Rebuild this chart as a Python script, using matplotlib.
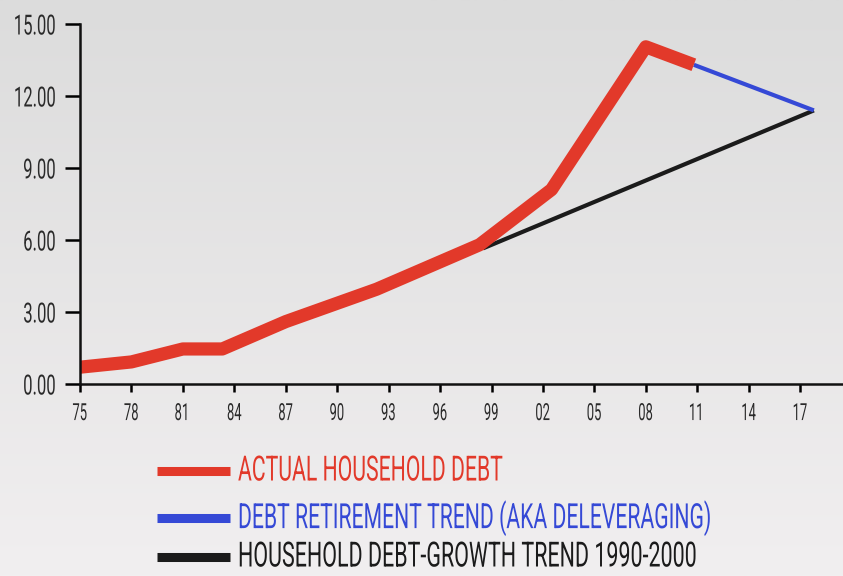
import numpy as np
import matplotlib
matplotlib.use("Agg")
import matplotlib.pyplot as plt
from matplotlib.lines import Line2D
from matplotlib import patheffects
from matplotlib.transforms import Affine2D, Bbox

plt.rcParams['font.family'] = ['Roboto', 'DejaVu Sans']

# household debt, trillions of dollars
debt_years = [1975, 1978, 1981, 1983.3, 1987, 1992.3, 1998.3, 2002.5, 2008, 2010.8]
debt_values = [0.70, 0.92, 1.46, 1.46, 2.60, 3.95, 5.80, 8.10, 14.05, 13.30]

# deleveraging trend after the peak
delev_years = [2010.8, 2017.8]
delev_values = [13.30, 11.40]

# straight-line growth trend fitted on the 1990s
trend_years = [1998.5, 2017.8]
trend_values = [5.65, 11.40]

xticks = list(range(1975, 2018, 3))
xticklabels = ["%02d" % (y % 100) for y in xticks]
yticks = [0, 3, 6, 9, 12, 15]

legend_labels = ["ACTUAL HOUSEHOLD DEBT",
                 "DEBT RETIREMENT TREND (AKA DELEVERAGING)",
                 "HOUSEHOLD DEBT-GROWTH TREND 1990-2000"]
colors = ["#e2392a", "#3549d6", "#1b1b1b"]


class Condense(patheffects.AbstractPathEffect):
    """Squeeze glyphs horizontally around the left, centre or right edge."""

    def __init__(self, sx, align="left"):
        super().__init__()
        self.sx = sx
        self.align = align

    def draw_path(self, renderer, gc, tpath, affine, rgbFace=None):
        verts = affine.transform(tpath.vertices)
        if len(verts) == 0:
            return
        x0, x1 = verts[:, 0].min(), verts[:, 0].max()
        ref = {"left": x0, "right": x1, "center": 0.5 * (x0 + x1)}[self.align]
        squeeze = Affine2D().translate(-ref, 0).scale(self.sx, 1).translate(ref, 0)
        renderer.draw_path(gc, tpath, affine + squeeze, rgbFace)


def squeeze_text(t, sx, align):
    # condensed look for a text, with its extent shrunk to match
    t.set_path_effects([Condense(sx, align)])
    orig = t.get_window_extent

    def extent(renderer=None, dpi=None):
        bb = orig(renderer, dpi)
        ref = {"left": bb.x0, "right": bb.x1, "center": 0.5 * (bb.x0 + bb.x1)}[align]
        return Bbox.from_extents(ref + (bb.x0 - ref) * sx, bb.y0,
                                 ref + (bb.x1 - ref) * sx, bb.y1)

    t.get_window_extent = extent


W, H = 843, 576
fig = plt.figure(figsize=(W / 100, H / 100), dpi=100)

# soft grey vertical gradient behind everything
bg = fig.add_axes([0, 0, 1, 1], zorder=-10)
grad = np.linspace(0, 1, 256)[:, None]
top = np.array([220, 220, 220]) / 255
bot = np.array([241, 239, 240]) / 255
img = top + (bot - top) * grad[..., None]
bg.imshow(img, aspect="auto", extent=[0, 1, 0, 1])
bg.axis("off")

ax = fig.add_axes([80 / W, (H - 384) / H, (W - 80) / W, 360 / H])
ax.patch.set_alpha(0)

ax.plot(trend_years, trend_values, color=colors[2], lw=3.0, solid_capstyle="butt", zorder=2)
ax.plot(delev_years, delev_values, color=colors[1], lw=3.0, solid_capstyle="butt", zorder=2)
ax.plot(debt_years, debt_values, color=colors[0], lw=9.5,
        solid_capstyle="butt", solid_joinstyle="round", zorder=3)

ax.set_xlim(1975, 2019.5)
ax.set_ylim(0, 15)
ax.set_xticks(xticks)
ax.set_xticklabels(xticklabels)
ax.set_yticks(yticks)
ax.set_yticklabels(["%.2f" % v for v in yticks])

for side in ["top", "right"]:
    ax.spines[side].set_visible(False)
for side in ["left", "bottom"]:
    ax.spines[side].set_linewidth(1.8)
    ax.spines[side].set_color("#111111")
ax.spines["left"].set_zorder(4)

ax.tick_params(axis="y", length=11, width=1.8, pad=6, labelsize=20, labelcolor="#2a2a2a")
ax.tick_params(axis="x", length=6, width=1.8, pad=7, labelsize=17, labelcolor="#2a2a2a")
for lab in ax.get_yticklabels():
    squeeze_text(lab, 0.60, "right")
for lab in ax.get_xticklabels():
    squeeze_text(lab, 0.55, "center")

# legend rows drawn in pixel positions below the axes
rows_y = [471, 518, 557]
text_right = [503, 712, 697]
renderer = fig.canvas.get_renderer()
for label, c, ry, xr in zip(legend_labels, colors, rows_y, text_right):
    yf = (H - ry) / H
    fig.add_artist(Line2D([157 / W, 230 / W], [yf, yf], color=c, lw=6.5,
                          solid_capstyle="butt", transform=fig.transFigure))
    t = fig.text(238 / W, yf, label, color=c, fontsize=25, va="center", ha="left")
    full = t.get_window_extent(renderer).width
    squeeze_text(t, (xr - 238) / full, "left")

fig.savefig("out.png", dpi=100)
